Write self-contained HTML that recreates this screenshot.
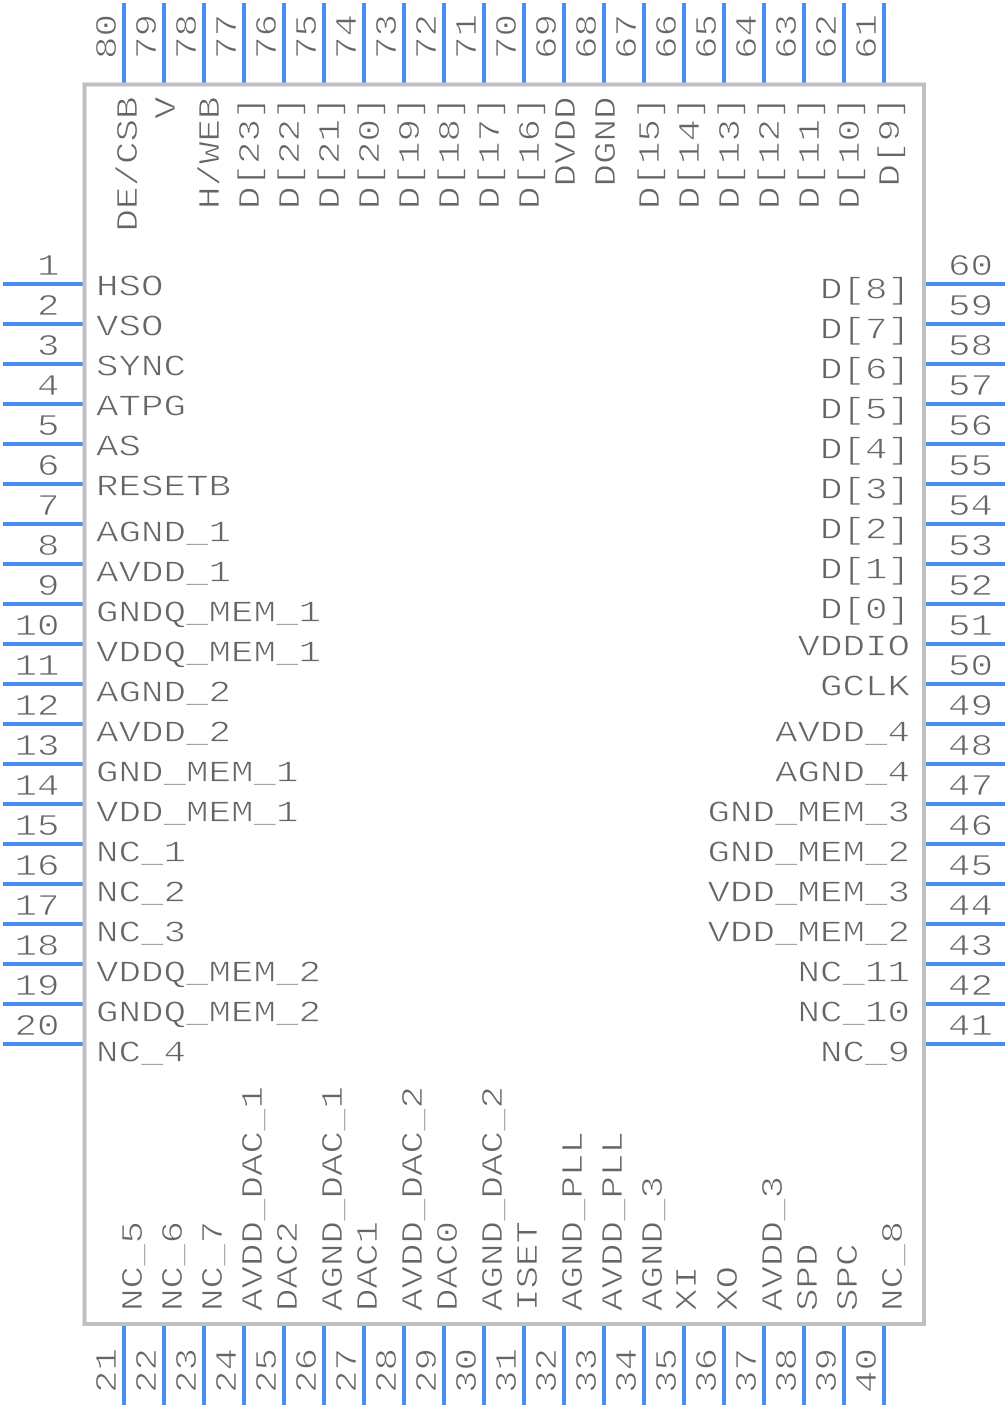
<!DOCTYPE html>
<html><head><meta charset="utf-8"><style>
html,body{margin:0;padding:0;background:#fff;}
svg{display:block;}
text{font-family:"Liberation Mono","DejaVu Sans Mono",monospace;font-size:37.5px;fill:#666;stroke:#fff;stroke-width:0.9px;paint-order:fill stroke;}
.e{text-anchor:end;}
</style></head><body>
<svg width="1008" height="1408" viewBox="0 0 1008 1408" xmlns="http://www.w3.org/2000/svg">
<g stroke="#4a8cf5" stroke-width="4">
<line x1="3" y1="284" x2="85" y2="284"/><line x1="3" y1="324" x2="85" y2="324"/><line x1="3" y1="364" x2="85" y2="364"/><line x1="3" y1="404" x2="85" y2="404"/><line x1="3" y1="444" x2="85" y2="444"/><line x1="3" y1="484" x2="85" y2="484"/><line x1="3" y1="524" x2="85" y2="524"/><line x1="3" y1="564" x2="85" y2="564"/><line x1="3" y1="604" x2="85" y2="604"/><line x1="3" y1="644" x2="85" y2="644"/><line x1="3" y1="684" x2="85" y2="684"/><line x1="3" y1="724" x2="85" y2="724"/><line x1="3" y1="764" x2="85" y2="764"/><line x1="3" y1="804" x2="85" y2="804"/><line x1="3" y1="844" x2="85" y2="844"/><line x1="3" y1="884" x2="85" y2="884"/><line x1="3" y1="924" x2="85" y2="924"/><line x1="3" y1="964" x2="85" y2="964"/><line x1="3" y1="1004" x2="85" y2="1004"/><line x1="3" y1="1044" x2="85" y2="1044"/>
<line x1="923" y1="284" x2="1005" y2="284"/><line x1="923" y1="324" x2="1005" y2="324"/><line x1="923" y1="364" x2="1005" y2="364"/><line x1="923" y1="404" x2="1005" y2="404"/><line x1="923" y1="444" x2="1005" y2="444"/><line x1="923" y1="484" x2="1005" y2="484"/><line x1="923" y1="524" x2="1005" y2="524"/><line x1="923" y1="564" x2="1005" y2="564"/><line x1="923" y1="604" x2="1005" y2="604"/><line x1="923" y1="644" x2="1005" y2="644"/><line x1="923" y1="684" x2="1005" y2="684"/><line x1="923" y1="724" x2="1005" y2="724"/><line x1="923" y1="764" x2="1005" y2="764"/><line x1="923" y1="804" x2="1005" y2="804"/><line x1="923" y1="844" x2="1005" y2="844"/><line x1="923" y1="884" x2="1005" y2="884"/><line x1="923" y1="924" x2="1005" y2="924"/><line x1="923" y1="964" x2="1005" y2="964"/><line x1="923" y1="1004" x2="1005" y2="1004"/><line x1="923" y1="1044" x2="1005" y2="1044"/>
<line x1="124" y1="3" x2="124" y2="85"/><line x1="164" y1="3" x2="164" y2="85"/><line x1="204" y1="3" x2="204" y2="85"/><line x1="244" y1="3" x2="244" y2="85"/><line x1="284" y1="3" x2="284" y2="85"/><line x1="324" y1="3" x2="324" y2="85"/><line x1="364" y1="3" x2="364" y2="85"/><line x1="404" y1="3" x2="404" y2="85"/><line x1="444" y1="3" x2="444" y2="85"/><line x1="484" y1="3" x2="484" y2="85"/><line x1="524" y1="3" x2="524" y2="85"/><line x1="564" y1="3" x2="564" y2="85"/><line x1="604" y1="3" x2="604" y2="85"/><line x1="644" y1="3" x2="644" y2="85"/><line x1="684" y1="3" x2="684" y2="85"/><line x1="724" y1="3" x2="724" y2="85"/><line x1="764" y1="3" x2="764" y2="85"/><line x1="804" y1="3" x2="804" y2="85"/><line x1="844" y1="3" x2="844" y2="85"/><line x1="884" y1="3" x2="884" y2="85"/>
<line x1="124" y1="1323" x2="124" y2="1405"/><line x1="164" y1="1323" x2="164" y2="1405"/><line x1="204" y1="1323" x2="204" y2="1405"/><line x1="244" y1="1323" x2="244" y2="1405"/><line x1="284" y1="1323" x2="284" y2="1405"/><line x1="324" y1="1323" x2="324" y2="1405"/><line x1="364" y1="1323" x2="364" y2="1405"/><line x1="404" y1="1323" x2="404" y2="1405"/><line x1="444" y1="1323" x2="444" y2="1405"/><line x1="484" y1="1323" x2="484" y2="1405"/><line x1="524" y1="1323" x2="524" y2="1405"/><line x1="564" y1="1323" x2="564" y2="1405"/><line x1="604" y1="1323" x2="604" y2="1405"/><line x1="644" y1="1323" x2="644" y2="1405"/><line x1="684" y1="1323" x2="684" y2="1405"/><line x1="724" y1="1323" x2="724" y2="1405"/><line x1="764" y1="1323" x2="764" y2="1405"/><line x1="804" y1="1323" x2="804" y2="1405"/><line x1="844" y1="1323" x2="844" y2="1405"/><line x1="884" y1="1323" x2="884" y2="1405"/>
</g>
<rect x="84.5" y="84.5" width="839.5" height="1239.5" fill="#fff" stroke="#c0c0c0" stroke-width="4"/>

<text class="e" transform="translate(59.5,275) scale(1,0.81)">1</text>
<text class="e" transform="translate(59.5,315) scale(1,0.81)">2</text>
<text class="e" transform="translate(59.5,355) scale(1,0.81)">3</text>
<text class="e" transform="translate(59.5,395) scale(1,0.81)">4</text>
<text class="e" transform="translate(59.5,435) scale(1,0.81)">5</text>
<text class="e" transform="translate(59.5,475) scale(1,0.81)">6</text>
<text class="e" transform="translate(59.5,515) scale(1,0.81)">7</text>
<text class="e" transform="translate(59.5,555) scale(1,0.81)">8</text>
<text class="e" transform="translate(59.5,595) scale(1,0.81)">9</text>
<text class="e" transform="translate(59.5,635) scale(1,0.81)">10</text>
<text class="e" transform="translate(59.5,675) scale(1,0.81)">11</text>
<text class="e" transform="translate(59.5,715) scale(1,0.81)">12</text>
<text class="e" transform="translate(59.5,755) scale(1,0.81)">13</text>
<text class="e" transform="translate(59.5,795) scale(1,0.81)">14</text>
<text class="e" transform="translate(59.5,835) scale(1,0.81)">15</text>
<text class="e" transform="translate(59.5,875) scale(1,0.81)">16</text>
<text class="e" transform="translate(59.5,915) scale(1,0.81)">17</text>
<text class="e" transform="translate(59.5,955) scale(1,0.81)">18</text>
<text class="e" transform="translate(59.5,995) scale(1,0.81)">19</text>
<text class="e" transform="translate(59.5,1035) scale(1,0.81)">20</text>

<text transform="translate(96,295.5) scale(1,0.81)">HSO</text>
<text transform="translate(96,335.5) scale(1,0.81)">VSO</text>
<text transform="translate(96,375.5) scale(1,0.81)">SYNC</text>
<text transform="translate(96,415.5) scale(1,0.81)">ATPG</text>
<text transform="translate(96,455.5) scale(1,0.81)">AS</text>
<text transform="translate(96,495.5) scale(1,0.81)">RESETB</text>
<text transform="translate(96,541.5) scale(1,0.81)">AGND_1</text>
<text transform="translate(96,581.5) scale(1,0.81)">AVDD_1</text>
<text transform="translate(96,621.5) scale(1,0.81)">GNDQ_MEM_1</text>
<text transform="translate(96,661.5) scale(1,0.81)">VDDQ_MEM_1</text>
<text transform="translate(96,701.5) scale(1,0.81)">AGND_2</text>
<text transform="translate(96,741.5) scale(1,0.81)">AVDD_2</text>
<text transform="translate(96,781.5) scale(1,0.81)">GND_MEM_1</text>
<text transform="translate(96,821.5) scale(1,0.81)">VDD_MEM_1</text>
<text transform="translate(96,861.5) scale(1,0.81)">NC_1</text>
<text transform="translate(96,901.5) scale(1,0.81)">NC_2</text>
<text transform="translate(96,941.5) scale(1,0.81)">NC_3</text>
<text transform="translate(96,981.5) scale(1,0.81)">VDDQ_MEM_2</text>
<text transform="translate(96,1021.5) scale(1,0.81)">GNDQ_MEM_2</text>
<text transform="translate(96,1061.5) scale(1,0.81)">NC_4</text>

<text transform="translate(948,275) scale(1,0.81)">60</text>
<text transform="translate(948,315) scale(1,0.81)">59</text>
<text transform="translate(948,355) scale(1,0.81)">58</text>
<text transform="translate(948,395) scale(1,0.81)">57</text>
<text transform="translate(948,435) scale(1,0.81)">56</text>
<text transform="translate(948,475) scale(1,0.81)">55</text>
<text transform="translate(948,515) scale(1,0.81)">54</text>
<text transform="translate(948,555) scale(1,0.81)">53</text>
<text transform="translate(948,595) scale(1,0.81)">52</text>
<text transform="translate(948,635) scale(1,0.81)">51</text>
<text transform="translate(948,675) scale(1,0.81)">50</text>
<text transform="translate(948,715) scale(1,0.81)">49</text>
<text transform="translate(948,755) scale(1,0.81)">48</text>
<text transform="translate(948,795) scale(1,0.81)">47</text>
<text transform="translate(948,835) scale(1,0.81)">46</text>
<text transform="translate(948,875) scale(1,0.81)">45</text>
<text transform="translate(948,915) scale(1,0.81)">44</text>
<text transform="translate(948,955) scale(1,0.81)">43</text>
<text transform="translate(948,995) scale(1,0.81)">42</text>
<text transform="translate(948,1035) scale(1,0.81)">41</text>

<text class="e" transform="translate(910,298.5) scale(1,0.81)">D[8]</text>
<text class="e" transform="translate(910,338.5) scale(1,0.81)">D[7]</text>
<text class="e" transform="translate(910,378.5) scale(1,0.81)">D[6]</text>
<text class="e" transform="translate(910,418.5) scale(1,0.81)">D[5]</text>
<text class="e" transform="translate(910,458.5) scale(1,0.81)">D[4]</text>
<text class="e" transform="translate(910,498.5) scale(1,0.81)">D[3]</text>
<text class="e" transform="translate(910,538.5) scale(1,0.81)">D[2]</text>
<text class="e" transform="translate(910,578.5) scale(1,0.81)">D[1]</text>
<text class="e" transform="translate(910,618.5) scale(1,0.81)">D[0]</text>
<text class="e" transform="translate(910,655.5) scale(1,0.81)">VDDIO</text>
<text class="e" transform="translate(910,695.5) scale(1,0.81)">GCLK</text>
<text class="e" transform="translate(910,741.5) scale(1,0.81)">AVDD_4</text>
<text class="e" transform="translate(910,781.5) scale(1,0.81)">AGND_4</text>
<text class="e" transform="translate(910,821.5) scale(1,0.81)">GND_MEM_3</text>
<text class="e" transform="translate(910,861.5) scale(1,0.81)">GND_MEM_2</text>
<text class="e" transform="translate(910,901.5) scale(1,0.81)">VDD_MEM_3</text>
<text class="e" transform="translate(910,941.5) scale(1,0.81)">VDD_MEM_2</text>
<text class="e" transform="translate(910,981.5) scale(1,0.81)">NC_11</text>
<text class="e" transform="translate(910,1021.5) scale(1,0.81)">NC_10</text>
<text class="e" transform="translate(910,1061.5) scale(1,0.81)">NC_9</text>

<text transform="translate(116,59) rotate(-90) scale(1,0.81)">80</text>
<text transform="translate(156,59) rotate(-90) scale(1,0.81)">79</text>
<text transform="translate(196,59) rotate(-90) scale(1,0.81)">78</text>
<text transform="translate(236,59) rotate(-90) scale(1,0.81)">77</text>
<text transform="translate(276,59) rotate(-90) scale(1,0.81)">76</text>
<text transform="translate(316,59) rotate(-90) scale(1,0.81)">75</text>
<text transform="translate(356,59) rotate(-90) scale(1,0.81)">74</text>
<text transform="translate(396,59) rotate(-90) scale(1,0.81)">73</text>
<text transform="translate(436,59) rotate(-90) scale(1,0.81)">72</text>
<text transform="translate(476,59) rotate(-90) scale(1,0.81)">71</text>
<text transform="translate(516,59) rotate(-90) scale(1,0.81)">70</text>
<text transform="translate(556,59) rotate(-90) scale(1,0.81)">69</text>
<text transform="translate(596,59) rotate(-90) scale(1,0.81)">68</text>
<text transform="translate(636,59) rotate(-90) scale(1,0.81)">67</text>
<text transform="translate(676,59) rotate(-90) scale(1,0.81)">66</text>
<text transform="translate(716,59) rotate(-90) scale(1,0.81)">65</text>
<text transform="translate(756,59) rotate(-90) scale(1,0.81)">64</text>
<text transform="translate(796,59) rotate(-90) scale(1,0.81)">63</text>
<text transform="translate(836,59) rotate(-90) scale(1,0.81)">62</text>
<text transform="translate(876,59) rotate(-90) scale(1,0.81)">61</text>

<text class="e" transform="translate(137,96.5) rotate(-90) scale(1,0.81)">DE/CSB</text>
<text class="e" transform="translate(175,96.5) rotate(-90) scale(1,0.81)">V</text>
<text class="e" transform="translate(219,96.5) rotate(-90) scale(1,0.81)">H/WEB</text>
<text class="e" transform="translate(259,96.5) rotate(-90) scale(1,0.81)">D[23]</text>
<text class="e" transform="translate(299,96.5) rotate(-90) scale(1,0.81)">D[22]</text>
<text class="e" transform="translate(339,96.5) rotate(-90) scale(1,0.81)">D[21]</text>
<text class="e" transform="translate(379,96.5) rotate(-90) scale(1,0.81)">D[20]</text>
<text class="e" transform="translate(419,96.5) rotate(-90) scale(1,0.81)">D[19]</text>
<text class="e" transform="translate(459,96.5) rotate(-90) scale(1,0.81)">D[18]</text>
<text class="e" transform="translate(499,96.5) rotate(-90) scale(1,0.81)">D[17]</text>
<text class="e" transform="translate(539,96.5) rotate(-90) scale(1,0.81)">D[16]</text>
<text class="e" transform="translate(575,96.5) rotate(-90) scale(1,0.81)">DVDD</text>
<text class="e" transform="translate(615,96.5) rotate(-90) scale(1,0.81)">DGND</text>
<text class="e" transform="translate(659,96.5) rotate(-90) scale(1,0.81)">D[15]</text>
<text class="e" transform="translate(699,96.5) rotate(-90) scale(1,0.81)">D[14]</text>
<text class="e" transform="translate(739,96.5) rotate(-90) scale(1,0.81)">D[13]</text>
<text class="e" transform="translate(779,96.5) rotate(-90) scale(1,0.81)">D[12]</text>
<text class="e" transform="translate(819,96.5) rotate(-90) scale(1,0.81)">D[11]</text>
<text class="e" transform="translate(859,96.5) rotate(-90) scale(1,0.81)">D[10]</text>
<text class="e" transform="translate(899,96.5) rotate(-90) scale(1,0.81)">D[9]</text>

<text class="e" transform="translate(116,1348) rotate(-90) scale(1,0.81)">21</text>
<text class="e" transform="translate(156,1348) rotate(-90) scale(1,0.81)">22</text>
<text class="e" transform="translate(196,1348) rotate(-90) scale(1,0.81)">23</text>
<text class="e" transform="translate(236,1348) rotate(-90) scale(1,0.81)">24</text>
<text class="e" transform="translate(276,1348) rotate(-90) scale(1,0.81)">25</text>
<text class="e" transform="translate(316,1348) rotate(-90) scale(1,0.81)">26</text>
<text class="e" transform="translate(356,1348) rotate(-90) scale(1,0.81)">27</text>
<text class="e" transform="translate(396,1348) rotate(-90) scale(1,0.81)">28</text>
<text class="e" transform="translate(436,1348) rotate(-90) scale(1,0.81)">29</text>
<text class="e" transform="translate(476,1348) rotate(-90) scale(1,0.81)">30</text>
<text class="e" transform="translate(516,1348) rotate(-90) scale(1,0.81)">31</text>
<text class="e" transform="translate(556,1348) rotate(-90) scale(1,0.81)">32</text>
<text class="e" transform="translate(596,1348) rotate(-90) scale(1,0.81)">33</text>
<text class="e" transform="translate(636,1348) rotate(-90) scale(1,0.81)">34</text>
<text class="e" transform="translate(676,1348) rotate(-90) scale(1,0.81)">35</text>
<text class="e" transform="translate(716,1348) rotate(-90) scale(1,0.81)">36</text>
<text class="e" transform="translate(756,1348) rotate(-90) scale(1,0.81)">37</text>
<text class="e" transform="translate(796,1348) rotate(-90) scale(1,0.81)">38</text>
<text class="e" transform="translate(836,1348) rotate(-90) scale(1,0.81)">39</text>
<text class="e" transform="translate(876,1348) rotate(-90) scale(1,0.81)">40</text>

<text transform="translate(142,1311) rotate(-90) scale(1,0.81)">NC_5</text>
<text transform="translate(182,1311) rotate(-90) scale(1,0.81)">NC_6</text>
<text transform="translate(222,1311) rotate(-90) scale(1,0.81)">NC_7</text>
<text transform="translate(262,1311) rotate(-90) scale(1,0.81)">AVDD_DAC_1</text>
<text transform="translate(297,1311) rotate(-90) scale(1,0.81)">DAC2</text>
<text transform="translate(342,1311) rotate(-90) scale(1,0.81)">AGND_DAC_1</text>
<text transform="translate(377,1311) rotate(-90) scale(1,0.81)">DAC1</text>
<text transform="translate(422,1311) rotate(-90) scale(1,0.81)">AVDD_DAC_2</text>
<text transform="translate(457,1311) rotate(-90) scale(1,0.81)">DAC0</text>
<text transform="translate(502,1311) rotate(-90) scale(1,0.81)">AGND_DAC_2</text>
<text transform="translate(537,1311) rotate(-90) scale(1,0.81)">ISET</text>
<text transform="translate(582,1311) rotate(-90) scale(1,0.81)">AGND_PLL</text>
<text transform="translate(622,1311) rotate(-90) scale(1,0.81)">AVDD_PLL</text>
<text transform="translate(662,1311) rotate(-90) scale(1,0.81)">AGND_3</text>
<text transform="translate(696,1311) rotate(-90) scale(1,0.81)">XI</text>
<text transform="translate(737,1311) rotate(-90) scale(1,0.81)">XO</text>
<text transform="translate(782,1311) rotate(-90) scale(1,0.81)">AVDD_3</text>
<text transform="translate(817,1311) rotate(-90) scale(1,0.81)">SPD</text>
<text transform="translate(857,1311) rotate(-90) scale(1,0.81)">SPC</text>
<text transform="translate(902,1311) rotate(-90) scale(1,0.81)">NC_8</text>
</svg>
</body></html>
